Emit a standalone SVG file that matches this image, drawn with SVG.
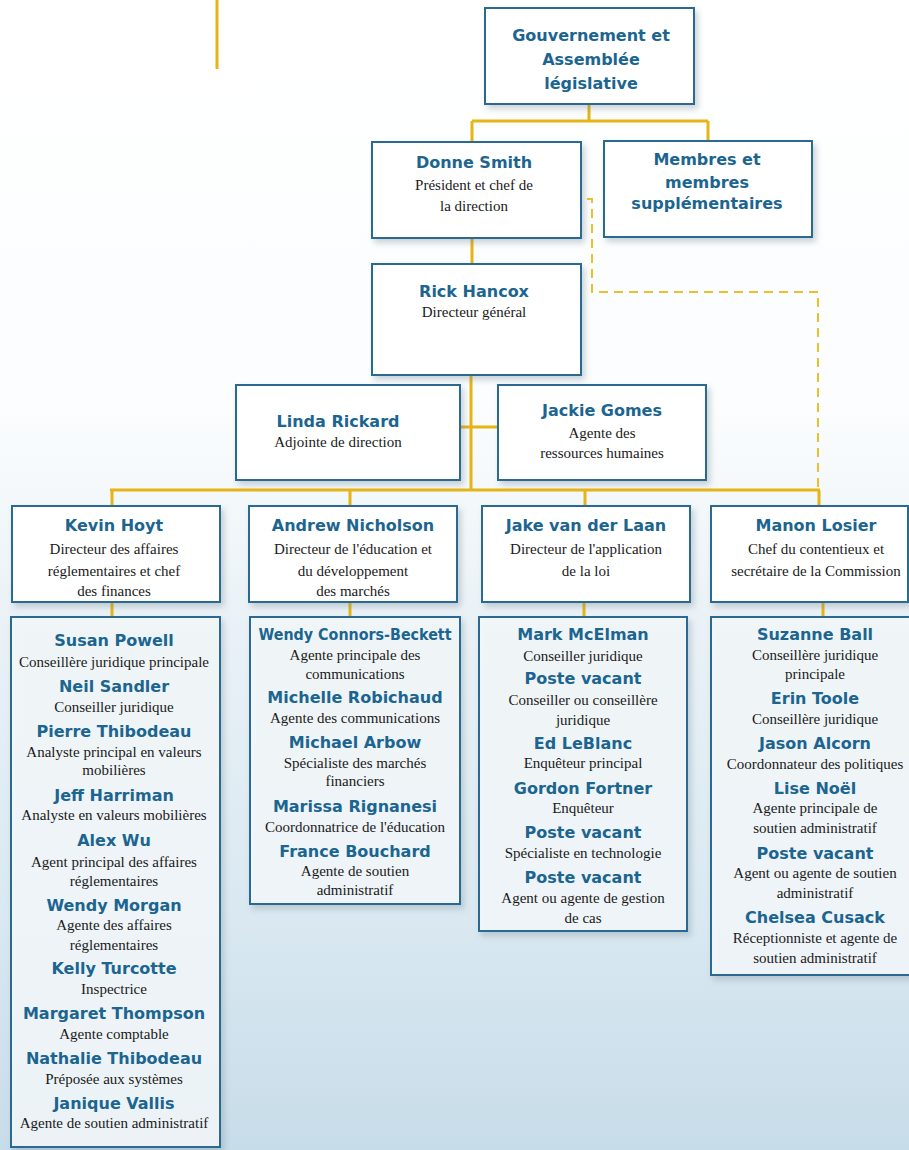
<svg xmlns="http://www.w3.org/2000/svg" width="909" height="1150" viewBox="0 0 909 1150">
<defs>
<linearGradient id="bg" x1="0" y1="0" x2="0" y2="1">
<stop offset="0" stop-color="#ffffff"/>
<stop offset="0.35" stop-color="#fbfdfe"/>
<stop offset="0.55" stop-color="#e9f1f6"/>
<stop offset="0.8" stop-color="#d9e8f1"/>
<stop offset="1" stop-color="#c7dce9"/>
</linearGradient>
<filter id="sh" x="-10%" y="-10%" width="125%" height="125%">
<feDropShadow dx="3" dy="4" stdDeviation="3" flood-color="#6a7f8c" flood-opacity="0.35"/>
</filter>
<style>
.box{fill:#ffffff;stroke:#2b6b92;stroke-width:2;filter:url(#sh)}
.sub{fill:#f4f9fc;fill-opacity:0.85;stroke:#2b6b92;stroke-width:2;filter:url(#sh)}
.nm{font-family:"DejaVu Sans",sans-serif;font-weight:bold;font-size:16px;fill:#1b6590;text-anchor:middle}
.tt{font-family:"Liberation Serif",serif;font-size:15px;fill:#1a1a1a;text-anchor:middle}
.ln{stroke:#e6b414;stroke-width:3;fill:none}
.dl{stroke:#ecbf2c;stroke-width:2;fill:none;stroke-dasharray:9 6}
</style>
</defs>
<rect x="0" y="0" width="909" height="1150" fill="url(#bg)"/>
<line x1="217" y1="0" x2="217" y2="69" stroke="#e6b414" stroke-width="3"/>

<g id="connectors">
<path class="ln" d="M589 104 V121 M472 121 H708 M472 121 V142 M708 121 V141"/>
<path class="ln" d="M472 238 V263"/>
<path class="ln" d="M471 375 V490 M460 427 H498"/>
<path class="ln" d="M110 490 H820 M112 490 V506 M350 490 V506 M585 490 V506 M819 490 V506"/>
<path class="ln" d="M112 602 V617 M350 602 V617 M584 602 V617 M823 602 V617"/>
<path class="dl" d="M587 199 H592 V292 H818 V488"/>
</g>

<g id="gouvernement">
<rect class="box" x="485" y="8" width="209" height="96"/>
<text class="nm" x="591" y="41">Gouvernement et</text>
<text class="nm" x="591" y="65">Assemblée</text>
<text class="nm" x="591" y="89">législative</text>
</g>

<g id="donne-smith">
<rect class="box" x="372" y="142" width="209" height="96"/>
<text class="nm" x="474" y="168">Donne Smith</text>
<text class="tt" x="474" y="190">Président et chef de</text>
<text class="tt" x="474" y="211">la direction</text>
</g>

<g id="membres">
<rect class="box" x="604" y="141" width="208" height="96"/>
<text class="nm" x="707" y="165">Membres et</text>
<text class="nm" x="707" y="188">membres</text>
<text class="nm" x="707" y="209">supplémentaires</text>
</g>

<g id="rick-hancox">
<rect class="box" x="372" y="264" width="209" height="111"/>
<text class="nm" x="474" y="297">Rick Hancox</text>
<text class="tt" x="474" y="317">Directeur général</text>
</g>

<g id="linda-rickard">
<rect class="box" x="236" y="385" width="224" height="95"/>
<text class="nm" x="338" y="427">Linda Rickard</text>
<text class="tt" x="338" y="447">Adjointe de direction</text>
</g>

<g id="jackie-gomes">
<rect class="box" x="498" y="385" width="208" height="95"/>
<text class="nm" x="602" y="416">Jackie Gomes</text>
<text class="tt" x="602" y="438">Agente des</text>
<text class="tt" x="602" y="458">ressources humaines</text>
</g>

<g id="kevin-hoyt">
<rect class="box" x="12" y="506" width="208" height="96"/>
<text class="nm" x="114" y="531">Kevin Hoyt</text>
<text class="tt" x="114" y="554">Directeur des affaires</text>
<text class="tt" x="114" y="576">réglementaires et chef</text>
<text class="tt" x="114" y="596">des finances</text>
</g>

<g id="andrew-nicholson">
<rect class="box" x="249" y="506" width="208" height="96"/>
<text class="nm" x="353" y="531">Andrew Nicholson</text>
<text class="tt" x="353" y="554">Directeur de l'éducation et</text>
<text class="tt" x="353" y="576">du développement</text>
<text class="tt" x="353" y="596">des marchés</text>
</g>

<g id="jake-van-der-laan">
<rect class="box" x="482" y="506" width="208" height="96"/>
<text class="nm" x="586" y="531">Jake van der Laan</text>
<text class="tt" x="586" y="554">Directeur de l'application</text>
<text class="tt" x="586" y="576">de la loi</text>
</g>

<g id="manon-losier">
<rect class="box" x="711" y="506" width="197" height="96"/>
<text class="nm" x="816" y="531">Manon Losier</text>
<text class="tt" x="816" y="554">Chef du contentieux et</text>
<text class="tt" x="816" y="576">secrétaire de la Commission</text>
</g>

<g id="equipe-hoyt">
<rect class="sub" x="11" y="617" width="209" height="530"/>
<text class="nm" x="114" y="646">Susan Powell</text>
<text class="tt" x="114" y="667">Conseillère juridique principale</text>
<text class="nm" x="114" y="692">Neil Sandler</text>
<text class="tt" x="114" y="712">Conseiller juridique</text>
<text class="nm" x="114" y="737">Pierre Thibodeau</text>
<text class="tt" x="114" y="757">Analyste principal en valeurs</text>
<text class="tt" x="114" y="775">mobilières</text>
<text class="nm" x="114" y="801">Jeff Harriman</text>
<text class="tt" x="114" y="820">Analyste en valeurs mobilières</text>
<text class="nm" x="114" y="846">Alex Wu</text>
<text class="tt" x="114" y="867">Agent principal des affaires</text>
<text class="tt" x="114" y="886">réglementaires</text>
<text class="nm" x="114" y="911">Wendy Morgan</text>
<text class="tt" x="114" y="930">Agente des affaires</text>
<text class="tt" x="114" y="950">réglementaires</text>
<text class="nm" x="114" y="974">Kelly Turcotte</text>
<text class="tt" x="114" y="994">Inspectrice</text>
<text class="nm" x="114" y="1019">Margaret Thompson</text>
<text class="tt" x="114" y="1039">Agente comptable</text>
<text class="nm" x="114" y="1064">Nathalie Thibodeau</text>
<text class="tt" x="114" y="1084">Préposée aux systèmes</text>
<text class="nm" x="114" y="1109">Janique Vallis</text>
<text class="tt" x="114" y="1128">Agente de soutien administratif</text>
</g>

<g id="equipe-nicholson">
<rect class="sub" x="250" y="617" width="210" height="287"/>
<text class="nm" x="355" y="640" textLength="193" lengthAdjust="spacingAndGlyphs">Wendy Connors-Beckett</text>
<text class="tt" x="355" y="660">Agente principale des</text>
<text class="tt" x="355" y="679">communications</text>
<text class="nm" x="355" y="703">Michelle Robichaud</text>
<text class="tt" x="355" y="723">Agente des communications</text>
<text class="nm" x="355" y="748">Michael Arbow</text>
<text class="tt" x="355" y="768">Spécialiste des marchés</text>
<text class="tt" x="355" y="786">financiers</text>
<text class="nm" x="355" y="812">Marissa Rignanesi</text>
<text class="tt" x="355" y="832">Coordonnatrice de l'éducation</text>
<text class="nm" x="355" y="857">France Bouchard</text>
<text class="tt" x="355" y="876">Agente de soutien</text>
<text class="tt" x="355" y="895">administratif</text>
</g>

<g id="equipe-van-der-laan">
<rect class="sub" x="479" y="617" width="208" height="314"/>
<text class="nm" x="583" y="640">Mark McElman</text>
<text class="tt" x="583" y="661">Conseiller juridique</text>
<text class="nm" x="583" y="684">Poste vacant</text>
<text class="tt" x="583" y="705">Conseiller ou conseillère</text>
<text class="tt" x="583" y="725">juridique</text>
<text class="nm" x="583" y="749">Ed LeBlanc</text>
<text class="tt" x="583" y="768">Enquêteur principal</text>
<text class="nm" x="583" y="794">Gordon Fortner</text>
<text class="tt" x="583" y="813">Enquêteur</text>
<text class="nm" x="583" y="838">Poste vacant</text>
<text class="tt" x="583" y="858">Spécialiste en technologie</text>
<text class="nm" x="583" y="883">Poste vacant</text>
<text class="tt" x="583" y="903">Agent ou agente de gestion</text>
<text class="tt" x="583" y="923">de cas</text>
</g>

<g id="equipe-losier">
<rect class="sub" x="711" y="617" width="200" height="358"/>
<text class="nm" x="815" y="640">Suzanne Ball</text>
<text class="tt" x="815" y="660">Conseillère juridique</text>
<text class="tt" x="815" y="679">principale</text>
<text class="nm" x="815" y="704">Erin Toole</text>
<text class="tt" x="815" y="724">Conseillère juridique</text>
<text class="nm" x="815" y="749">Jason Alcorn</text>
<text class="tt" x="815" y="769">Coordonnateur des politiques</text>
<text class="nm" x="815" y="794">Lise Noël</text>
<text class="tt" x="815" y="813">Agente principale de</text>
<text class="tt" x="815" y="833">soutien administratif</text>
<text class="nm" x="815" y="859">Poste vacant</text>
<text class="tt" x="815" y="878">Agent ou agente de soutien</text>
<text class="tt" x="815" y="898">administratif</text>
<text class="nm" x="815" y="923">Chelsea Cusack</text>
<text class="tt" x="815" y="943">Réceptionniste et agente de</text>
<text class="tt" x="815" y="963">soutien administratif</text>
</g>
</svg>
